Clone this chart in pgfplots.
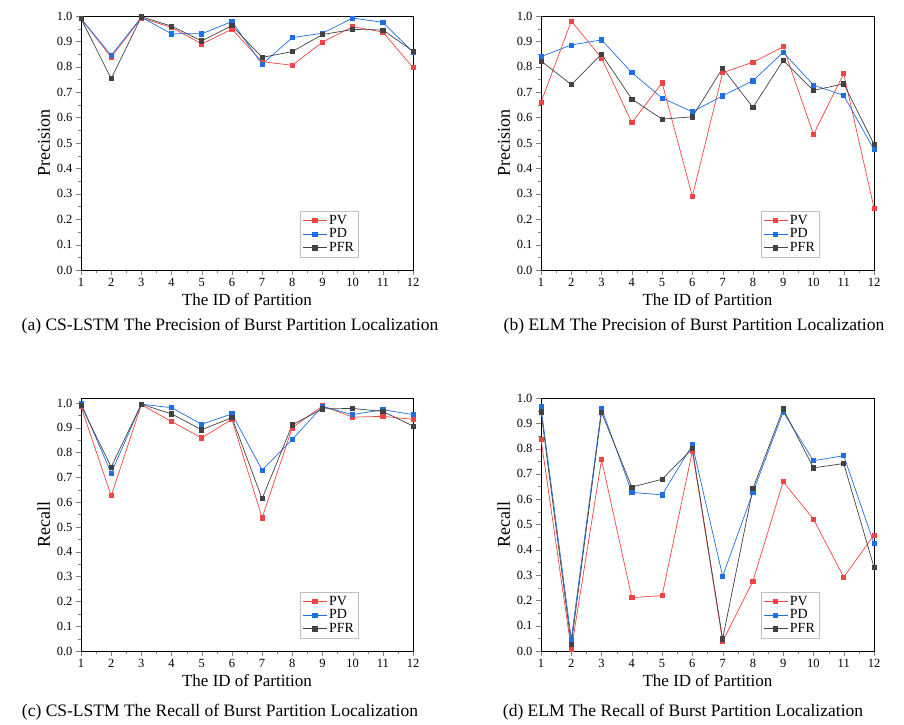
\documentclass[border=0pt]{standalone}
\usepackage{fontspec}
\setmainfont{Liberation Serif}
\usepackage{pgfplots}
\pgfplotsset{compat=1.18}

\definecolor{pvred}{RGB}{242,68,68}
\definecolor{pdblue}{RGB}{32,110,228}
\definecolor{pfrgray}{RGB}{66,66,66}

\pgfplotsset{
  panel/.style={
    anchor=south west, scale only axis, width=332pt, height=254pt,
    xmin=1, xmax=12, ymin=0, ymax=1,
    xtick={1,...,12}, ytick={0,0.1,0.2,0.3,0.4,0.5,0.6,0.7,0.8,0.9,1.0},
    minor x tick num=1, minor y tick num=1,
    tick align=outside, xtick pos=bottom, ytick pos=left,
    major tick length=5pt, minor tick length=3pt,
    /pgf/number format/assume math mode=true,
    yticklabel style={/pgf/number format/fixed, /pgf/number format/fixed zerofill, /pgf/number format/precision=1},
    ticklabel style={font=\fontsize{12.5}{12.5}\selectfont},
    xlabel={The ID of Partition},
    xlabel style={font=\fontsize{17}{17}\selectfont},
    ylabel style={font=\fontsize{18}{18}\selectfont},
    legend style={at={(0.835,0.05)}, anchor=south east, draw=gray!50,
      font=\fontsize{14}{14}\selectfont, inner sep=2pt, row sep=-1pt},
    legend cell align=left,
    legend image code/.code={\draw[mark repeat=2,mark phase=2]
      plot coordinates {(0pt,0pt)(12pt,0pt)(24pt,0pt)};},
    every axis plot/.append style={line width=0.7pt, mark=square*, mark size=2.1pt},
  },
  pv/.style={color=pvred, mark options={fill=pvred}},
  pd/.style={color=pdblue, mark options={fill=pdblue}},
  pfr/.style={color=pfrgray, mark options={fill=pfrgray}},
}

\begin{document}
\begin{tikzpicture}
\useasboundingbox (0pt,0pt) rectangle (904pt,724pt);

% (a) CS-LSTM precision
\begin{axis}[panel, at={(81pt,454pt)}, ylabel={Precision}]
\addplot[pv] coordinates {(1,0.99)(2,0.838)(3,0.992)(4,0.955)(5,0.890)(6,0.948)(7,0.820)(8,0.806)(9,0.897)(10,0.958)(11,0.937)(12,0.797)};
\addplot[pd] coordinates {(1,0.99)(2,0.845)(3,0.995)(4,0.930)(5,0.930)(6,0.978)(7,0.810)(8,0.915)(9,0.932)(10,0.992)(11,0.975)(12,0.858)};
\addplot[pfr] coordinates {(1,0.99)(2,0.753)(3,0.997)(4,0.960)(5,0.902)(6,0.962)(7,0.837)(8,0.860)(9,0.927)(10,0.947)(11,0.945)(12,0.862)};
\legend{PV,PD,PFR}
\end{axis}

% (b) ELM precision
\begin{axis}[panel, at={(541pt,454pt)}, width=333pt, ylabel={Precision}]
\addplot[pv] coordinates {(1,0.660)(2,0.980)(3,0.835)(4,0.580)(5,0.737)(6,0.290)(7,0.777)(8,0.818)(9,0.879)(10,0.534)(11,0.773)(12,0.244)};
\addplot[pd] coordinates {(1,0.840)(2,0.886)(3,0.906)(4,0.777)(5,0.677)(6,0.623)(7,0.686)(8,0.745)(9,0.857)(10,0.728)(11,0.687)(12,0.474)};
\addplot[pfr] coordinates {(1,0.823)(2,0.730)(3,0.850)(4,0.673)(5,0.594)(6,0.603)(7,0.795)(8,0.640)(9,0.825)(10,0.707)(11,0.733)(12,0.495)};
\legend{PV,PD,PFR}
\end{axis}

% (c) CS-LSTM recall
\begin{axis}[panel, at={(81pt,73pt)}, height=253pt, ymax=1.02, ylabel={Recall}]
\addplot[pv] coordinates {(1,0.985)(2,0.626)(3,0.993)(4,0.925)(5,0.859)(6,0.934)(7,0.537)(8,0.900)(9,0.988)(10,0.943)(11,0.946)(12,0.934)};
\addplot[pd] coordinates {(1,1.000)(2,0.717)(3,0.995)(4,0.981)(5,0.914)(6,0.956)(7,0.729)(8,0.853)(9,0.986)(10,0.953)(11,0.973)(12,0.953)};
\addplot[pfr] coordinates {(1,0.990)(2,0.742)(3,0.995)(4,0.956)(5,0.892)(6,0.941)(7,0.614)(8,0.912)(9,0.976)(10,0.978)(11,0.966)(12,0.907)};
\legend{PV,PD,PFR}
\end{axis}

% (d) ELM recall
\begin{axis}[panel, at={(541pt,73pt)}, width=333pt, height=253pt, ylabel={Recall}]
\addplot[pv] coordinates {(1,0.838)(2,0.005)(3,0.756)(4,0.211)(5,0.219)(6,0.790)(7,0.038)(8,0.276)(9,0.669)(10,0.521)(11,0.292)(12,0.458)};
\addplot[pd] coordinates {(1,0.965)(2,0.047)(3,0.960)(4,0.627)(5,0.617)(6,0.815)(7,0.296)(8,0.627)(9,0.945)(10,0.752)(11,0.772)(12,0.425)};
\addplot[pfr] coordinates {(1,0.945)(2,0.025)(3,0.943)(4,0.648)(5,0.679)(6,0.800)(7,0.048)(8,0.642)(9,0.957)(10,0.724)(11,0.741)(12,0.331)};
\legend{PV,PD,PFR}
\end{axis}

\begin{scope}[every node/.style={font=\fontsize{17.5}{17.5}\selectfont, inner sep=0pt}]
\node at (230pt,398pt) {(a) CS-LSTM The Precision of Burst Partition Localization};
\node at (694pt,398pt) {(b) ELM The Precision of Burst Partition Localization};
\node at (220pt,12pt) {(c) CS-LSTM The Recall of Burst Partition Localization};
\node at (683pt,12pt) {(d) ELM The Recall of Burst Partition Localization};
\end{scope}
\end{tikzpicture}
\end{document}
